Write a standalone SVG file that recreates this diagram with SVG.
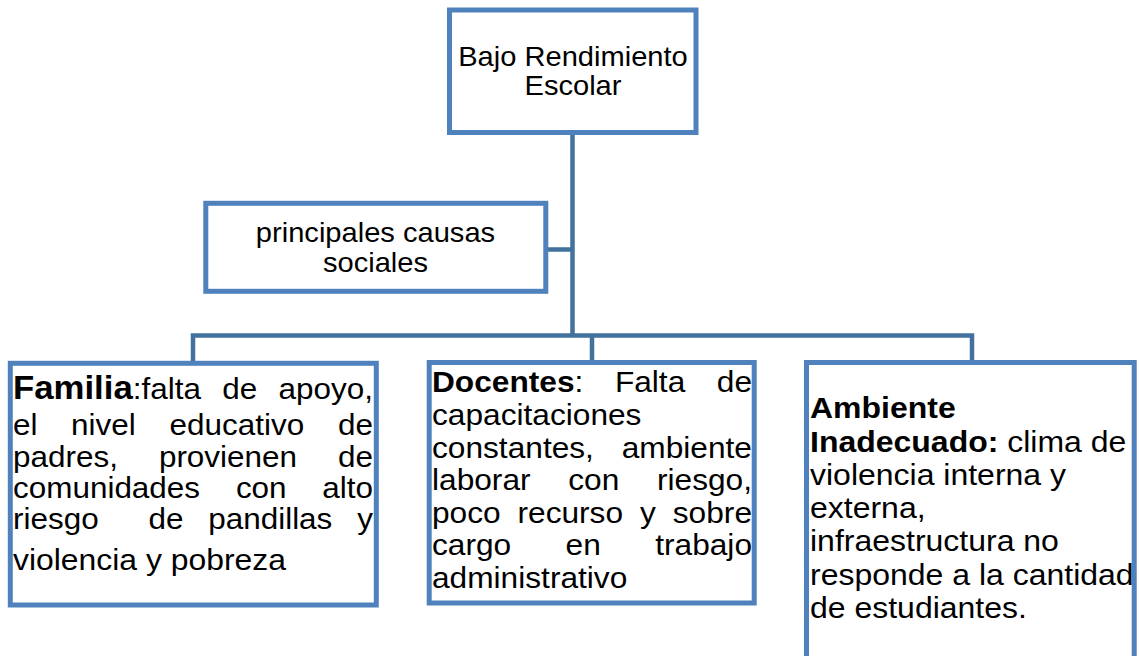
<svg xmlns="http://www.w3.org/2000/svg" width="1139" height="656" viewBox="0 0 1139 656">
<style>
.box{fill:#fff;stroke:#4f81bd;stroke-width:5}
.con{fill:none;stroke:#41719c;stroke-width:4.5;stroke-linecap:square}
text{font-family:"Liberation Sans",Arial,sans-serif;fill:#000}
.s27{font-size:27.2px}
.f{font-size:29.4px}
.d{font-size:29.6px}
.g{font-size:29.9px}
.m{text-anchor:middle}
.e{text-anchor:end}
.b{font-weight:bold}
</style>
<rect width="1139" height="656" fill="#fff"/>
<g id="connectors">
<path class="con" d="M572.5 133 V335.5 M547 249.5 H572.5 M193 335.5 H972 M193 335.5 V361 M592 335.5 V361 M972 335.5 V361"/>
</g>
<g id="n-bajo">
<rect class="box" x="449.5" y="10" width="246.5" height="122.5"/>
<g transform="scale(1.07 1)">
<text class="s27 m" x="535.51" y="66">Bajo Rendimiento</text>
<text class="s27 m" x="535.51" y="95">Escolar</text>
</g>
</g>
<g id="n-causas">
<rect class="box" x="205.8" y="203.3" width="340" height="88"/>
<g transform="scale(1.07 1)">
<text class="s27 m" x="350.93" y="241.7">principales causas</text>
<text class="s27 m" x="350.93" y="271.7">sociales</text>
</g>
</g>
<g id="n-familia">
<rect class="box" x="10.3" y="363.3" width="366" height="241.7"/>
<g transform="scale(1.07 1)" class="f">
<text x="12.15" y="399.5"><tspan class="b" style="font-size:32.5px">Familia</tspan>:falta</text>
<text x="207.76" y="399.5">de</text>
<text class="e" x="348.6" y="399.5">apoyo,</text>
<text x="12.15" y="435.5">el</text>
<text x="66.45" y="435.5">nivel</text>
<text x="158.41" y="435.5">educativo</text>
<text class="e" x="348.6" y="435.5">de</text>
<text x="12.15" y="467.5">padres,</text>
<text x="148.5" y="467.5">provienen</text>
<text class="e" x="348.6" y="467.5">de</text>
<text x="12.15" y="498.5">comunidades</text>
<text x="220.47" y="498.5">con</text>
<text class="e" x="348.6" y="498.5">alto</text>
<text x="12.15" y="529.5">riesgo</text>
<text x="138.69" y="529.5">de</text>
<text x="194.58" y="529.5">pandillas</text>
<text class="e" x="348.6" y="529.5">y</text>
<text x="12.15" y="570" style="font-size:29.8px">violencia y pobreza</text>
</g>
</g>
<g id="n-docentes">
<rect class="box" x="429.2" y="362.5" width="325" height="240.5"/>
<g transform="scale(1.07 1)" class="d">
<text x="403.74" y="392.5"><tspan class="b">Docentes</tspan>:</text>
<text x="574.67" y="392.5">Falta</text>
<text class="e" x="702.8" y="392.5">de</text>
<text x="403.74" y="425.1">capacitaciones</text>
<text x="403.74" y="457.7">constantes,</text>
<text class="e" x="702.8" y="457.7">ambiente</text>
<text x="403.74" y="490.3">laborar</text>
<text x="531.12" y="490.3">con</text>
<text class="e" x="702.8" y="490.3">riesgo,</text>
<text x="403.74" y="522.9">poco</text>
<text x="483.64" y="522.9">recurso</text>
<text x="598.13" y="522.9">y</text>
<text class="e" x="702.8" y="522.9">sobre</text>
<text x="403.74" y="555.5">cargo</text>
<text x="528.6" y="555.5">en</text>
<text class="e" x="702.8" y="555.5">trabajo</text>
<text x="403.74" y="588.1">administrativo</text>
</g>
</g>
<g id="n-ambiente">
<rect class="box" x="806.5" y="362.5" width="327.7" height="310"/>
<g transform="scale(1.07 1)" class="g">
<text class="b" x="757.01" y="418.3">Ambiente</text>
<text x="757.01" y="451.6"><tspan class="b">Inadecuado:</tspan> clima de</text>
<text x="757.01" y="484.9">violencia interna y</text>
<text x="757.01" y="518.2">externa,</text>
<text x="757.01" y="551.5">infraestructura no</text>
<text x="757.01" y="584.8">responde a la cantidad</text>
<text x="757.01" y="618.1">de estudiantes.</text>
</g>
</g>
</svg>
